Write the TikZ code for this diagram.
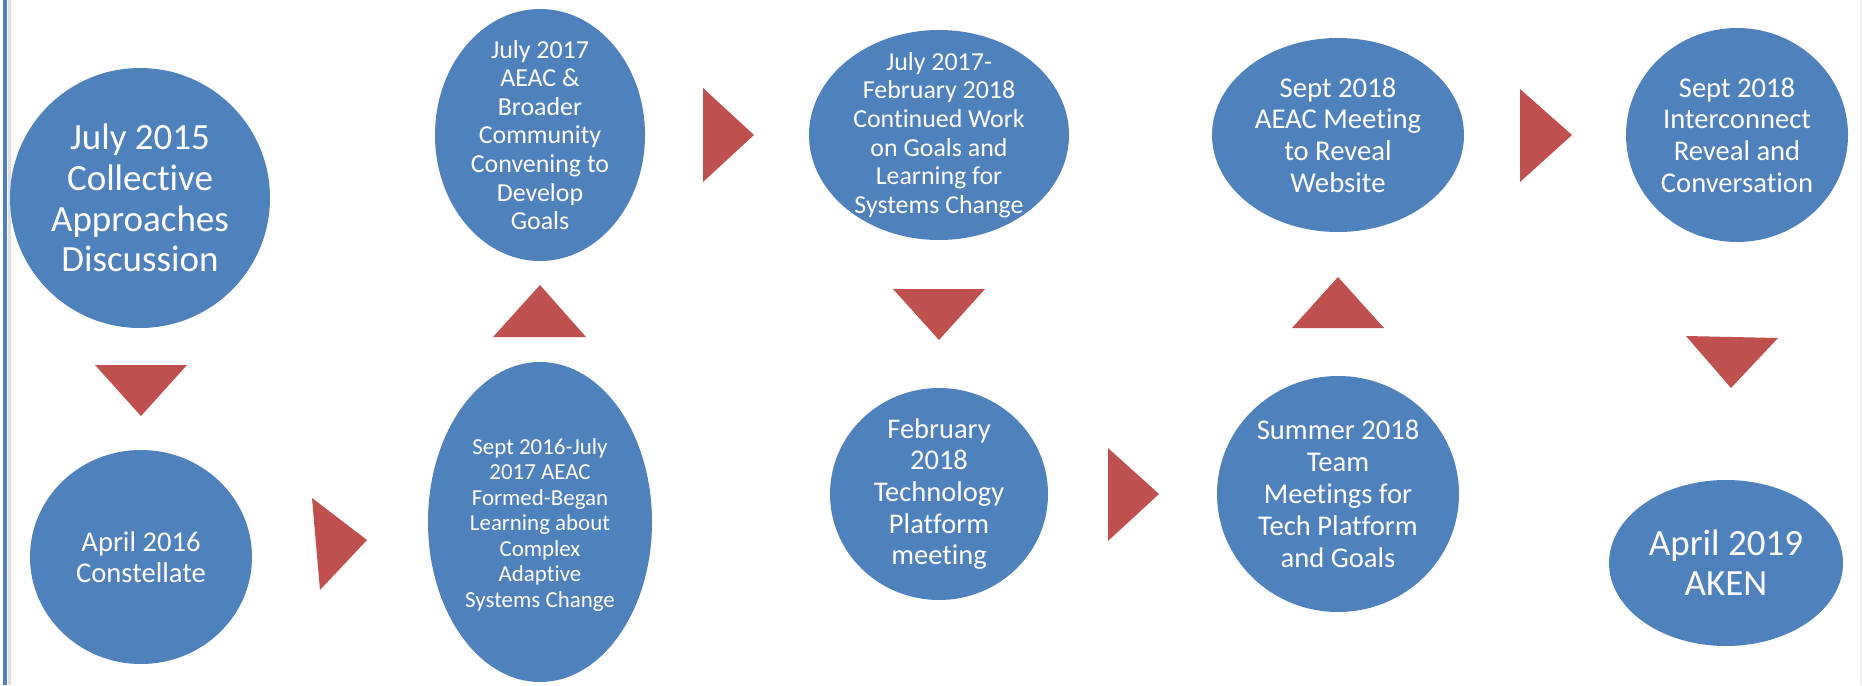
\documentclass[tikz,border=0pt]{standalone}
\usepackage{fontspec}
\setmainfont{Carlito}[Ligatures=NoCommon]
\definecolor{eblue}{HTML}{4F81BD}
\definecolor{tred}{HTML}{C0504D}
\tikzset{
  blob/.style={fill=eblue},
  arrowtri/.style={fill=tred},
  lbl/.style={text=white, align=center, inner sep=0pt},
}
\begin{document}
\begin{tikzpicture}[x=1pt,y=-1pt]
\useasboundingbox (0,0) rectangle (1862,685);
\fill[white] (0,0) rectangle (1862,685);
% left border
\draw[black!12, line width=3pt] (9,0) -- (9,685);
\draw[eblue, line width=3.5pt] (5,0) -- (5,685);
\draw[black!8, line width=1pt] (1860.5,0) -- (1860.5,685);

% ellipses
\path[blob] (140,198) ellipse [x radius=130, y radius=130];
\path[blob] (141,557) ellipse [x radius=111, y radius=107];
\path[blob] (540,135) ellipse [x radius=105, y radius=126];
\path[blob] (540,522) ellipse [x radius=112, y radius=160];
\path[blob] (939,135) ellipse [x radius=130, y radius=105];
\path[blob] (939,494) ellipse [x radius=109, y radius=106];
\path[blob] (1338,135) ellipse [x radius=126, y radius=97];
\path[blob] (1338,494) ellipse [x radius=121, y radius=118];
\path[blob] (1737,135) ellipse [x radius=111, y radius=107];
\path[blob] (1726,563) ellipse [x radius=117, y radius=83];

% texts
\node[lbl, font=\fontsize{37}{40.7}\selectfont] (e1) at (140,198) {July 2015\\Collective\\Approaches\\Discussion};
\node[lbl, font=\fontsize{28.6}{31.5}\selectfont] (e2) at (141,557) {April 2016\\Constellate};
\node[lbl, font=\fontsize{25.9}{28.6}\selectfont] (e3) at (540,135) {July 2017\\AEAC \&\\Broader\\Community\\Convening to\\Develop\\Goals};
\node[lbl, font=\fontsize{22.9}{25.5}\selectfont] (e5) at (540,525) {Sept 2016-July\\2017 AEAC\\Formed-Began\\Learning about\\Complex\\Adaptive\\Systems Change};
\node[lbl, font=\fontsize{25.9}{28.6}\selectfont] (e4) at (939,135) {July 2017-\\February 2018\\Continued Work\\on Goals and\\Learning for\\Systems Change};
\node[lbl, font=\fontsize{28.5}{31.7}\selectfont] (e6) at (939,494) {February\\2018\\Technology\\Platform\\meeting};
\node[lbl, font=\fontsize{28.7}{31.7}\selectfont] (e7) at (1338,135) {Sept 2018\\AEAC Meeting\\to Reveal\\Website};
\node[lbl, font=\fontsize{28.6}{32}\selectfont] (e9) at (1338,494) {Summer 2018\\Team\\Meetings for\\Tech Platform\\and Goals};
\node[lbl, font=\fontsize{28.6}{31.7}\selectfont] (e8) at (1737,135) {Sept 2018\\Interconnect\\Reveal and\\Conversation};
\node[lbl, font=\fontsize{37}{40}\selectfont] (e10) at (1726,563) {April 2019\\AKEN};

% arrow triangles
\fill[arrowtri] (95,365) -- (187,365) -- (141,416) -- cycle;
\fill[arrowtri] (312,498) -- (367,540) -- (320,590) -- cycle;
\fill[arrowtri] (493,337) -- (586,337) -- (540,285) -- cycle;
\fill[arrowtri] (703,88) -- (754,135) -- (703,182) -- cycle;
\fill[arrowtri] (893,289) -- (985,289) -- (939,340) -- cycle;
\fill[arrowtri] (1108,448) -- (1159,494) -- (1108,541) -- cycle;
\fill[arrowtri] (1292,328) -- (1384,328) -- (1338,277) -- cycle;
\fill[arrowtri] (1520,89) -- (1572,135) -- (1520,182) -- cycle;
\fill[arrowtri] (1686,336) -- (1778,338) -- (1731,388) -- cycle;
\end{tikzpicture}
\end{document}
